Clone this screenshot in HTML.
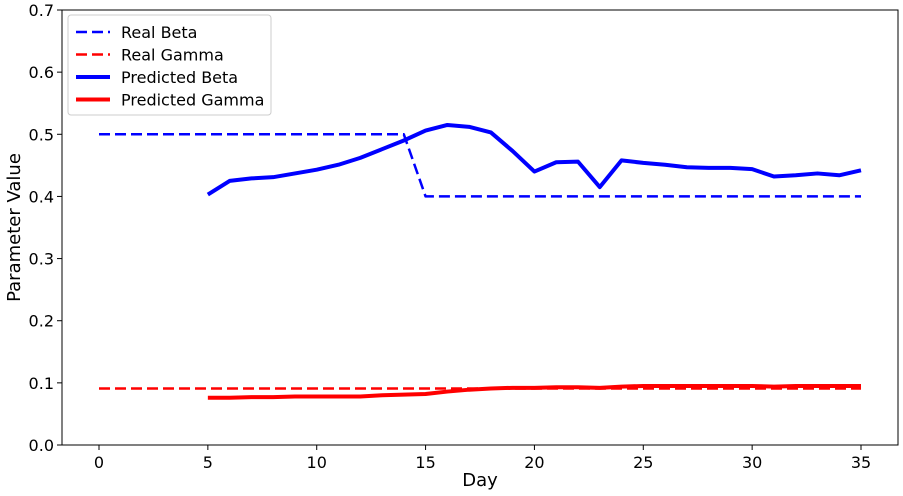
<!DOCTYPE html>
<html><head><meta charset="utf-8"><style>
body{margin:0;background:#fff;font-family:"DejaVu Sans",sans-serif}
</style></head><body>
<svg id="chart" width="903" height="492" xmlns="http://www.w3.org/2000/svg" font-family="DejaVu Sans, sans-serif"></svg>
<script>
const days=[];for(let d=0;d<=35;d++)days.push(d);
const realBeta=[0.5,0.5,0.5,0.5,0.5,0.5,0.5,0.5,0.5,0.5,0.5,0.5,0.5,0.5,0.5,0.4,0.4,0.4,0.4,0.4,0.4,0.4,0.4,0.4,0.4,0.4,0.4,0.4,0.4,0.4,0.4,0.4,0.4,0.4,0.4,0.4];
const realGamma=[0.091,0.091,0.091,0.091,0.091,0.091,0.091,0.091,0.091,0.091,0.091,0.091,0.091,0.091,0.091,0.091,0.091,0.091,0.091,0.091,0.091,0.091,0.091,0.091,0.091,0.091,0.091,0.091,0.091,0.091,0.091,0.091,0.091,0.091,0.091,0.091];
const predDays=[5,6,7,8,9,10,11,12,13,14,15,16,17,18,19,20,21,22,23,24,25,26,27,28,29,30,31,32,33,34,35];
const predBeta=[0.403,0.425,0.429,0.431,0.437,0.443,0.451,0.462,0.476,0.490,0.506,0.515,0.512,0.503,0.473,0.440,0.455,0.456,0.415,0.458,0.454,0.451,0.447,0.446,0.446,0.444,0.432,0.434,0.437,0.434,0.442];
const predGamma=[0.076,0.076,0.077,0.077,0.078,0.078,0.078,0.078,0.080,0.081,0.082,0.086,0.089,0.091,0.092,0.092,0.093,0.093,0.092,0.094,0.095,0.095,0.095,0.095,0.095,0.095,0.094,0.095,0.095,0.095,0.095];
const xTicks=[0,5,10,15,20,25,30,35];
const yTicks=[0,0.1,0.2,0.3,0.4,0.5,0.6,0.7];

const svg=document.getElementById('chart');
const NS='http://www.w3.org/2000/svg';
const L=62,R=898,T=10,B=445;
const x=d=>99+d*(861-99)/35;
const y=v=>B-v*(B-T)/0.7;
function mk(tag,attrs,parent){const e=document.createElementNS(NS,tag);for(const k in attrs)e.setAttribute(k,attrs[k]);(parent||svg).appendChild(e);return e;}

const frame=mk('rect',{x:L,y:T,width:R-L,height:B-T,fill:'none',stroke:'#000','stroke-width':1});



xTicks.forEach(t=>{
  const ln=mk('line',{x1:x(t),x2:x(t),y1:B,y2:B+5,stroke:'#000'});
  
  
  const tx=mk('text',{x:x(t),y:B+23,'text-anchor':'middle','font-size':16});
  tx.textContent=t;
  
  
});
yTicks.forEach(t=>{
  const ln=mk('line',{x1:L-5,x2:L,y1:y(t),y2:y(t),stroke:'#000'});
  
  
  const tx=mk('text',{x:L-8,y:y(t)+6,'text-anchor':'end','font-size':16});
  tx.textContent=t.toFixed(1);
  
  
});
const xl=mk('text',{x:(L+R)/2,y:486,'text-anchor':'middle','font-size':18});
xl.textContent='Day';


const yl=mk('text',{x:20,y:(T+B)/2,'text-anchor':'middle','font-size':18,transform:`rotate(-90 20 ${(T+B)/2})`});
yl.textContent='Parameter Value';



function line(xs,vs,color,dash,w,name){
  const p=mk('polyline',{points:xs.map((d,i)=>x(d)+','+y(vs[i])).join(' '),fill:'none',stroke:color,'stroke-width':w,'stroke-dasharray':dash||'none','stroke-linejoin':'round'});
  
  
}
line(days,realBeta,'#0000ff','11,5',2.5,'real-beta-line');
line(days,realGamma,'#ff0000','11,5',2.5,'real-gamma-line');
line(predDays,predBeta,'#0000ff',null,4,'predicted-beta-line');
line(predDays,predGamma,'#ff0000',null,4,'predicted-gamma-line');

const lg=mk('g',{});


mk('rect',{x:68,y:15,width:203,height:100,rx:3,fill:'#fff',stroke:'#ccc'},lg);
const entries=[['Real Beta','#0000ff',true],['Real Gamma','#ff0000',true],['Predicted Beta','#0000ff',false],['Predicted Gamma','#ff0000',false]];
entries.forEach((e,i)=>{
  const g=mk('g',{},lg);
  
  
  const cy=32+i*22.5;
  mk('line',{x1:76,x2:110,y1:cy,y2:cy,stroke:e[1],'stroke-width':e[2]?2.5:4,'stroke-dasharray':e[2]?'11,5':'none'},g);
  const t=mk('text',{x:121,y:cy+6,'font-size':16},g);
  t.textContent=e[0];
});
</script>
</body></html>
